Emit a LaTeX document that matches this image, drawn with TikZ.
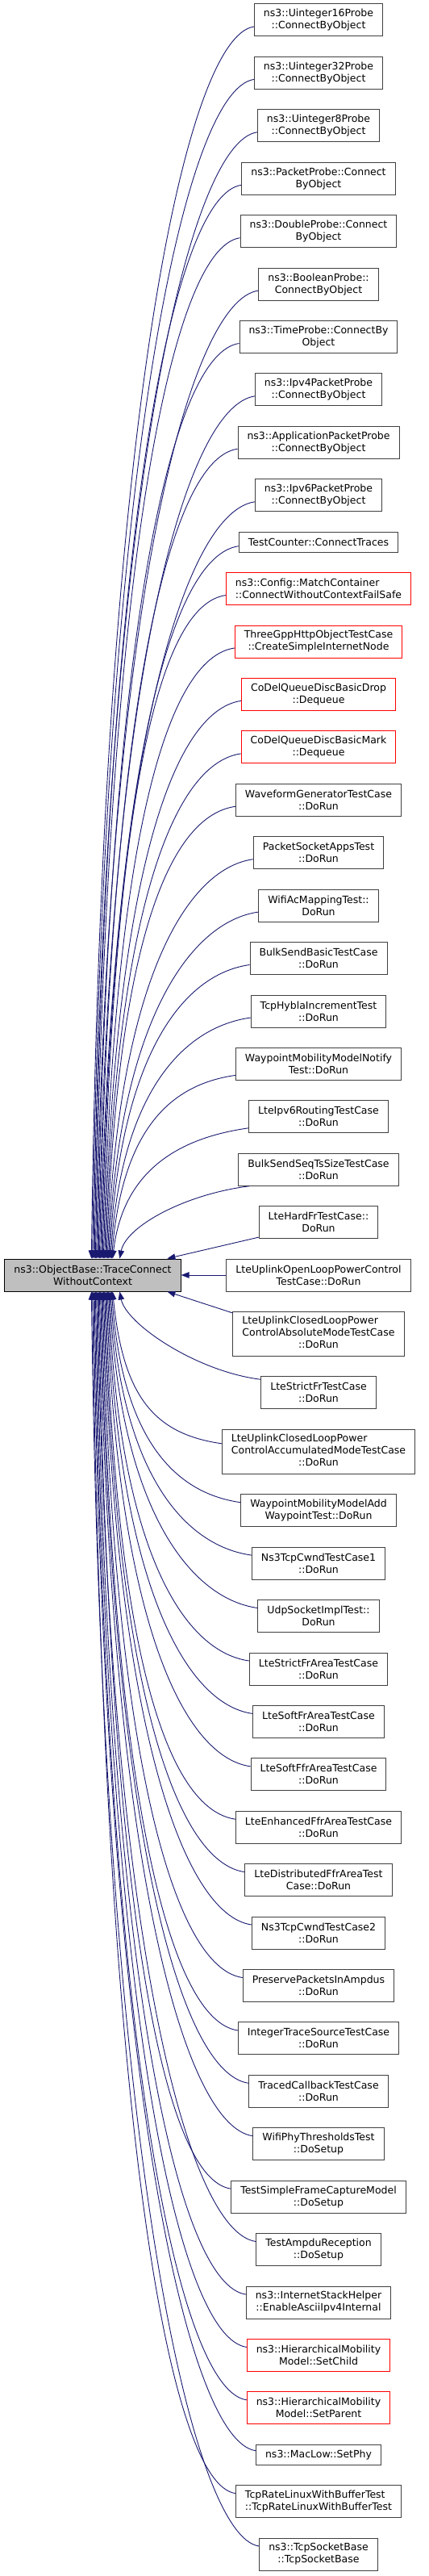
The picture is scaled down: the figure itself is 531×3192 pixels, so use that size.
\documentclass[tikz,border=0pt]{standalone}
\usepackage{fontspec}
\setmainfont{DejaVu Sans}
\usetikzlibrary{arrows.meta}
\definecolor{edgeblue}{HTML}{191970}
\definecolor{boxgray}{HTML}{404040}
\definecolor{leftfill}{HTML}{BFBFBF}
\tikzset{
  fnbase/.style={draw=boxgray, line width=1pt, fill=white, font=\fontsize{12.5pt}{15pt}\selectfont, inner xsep=11.5pt, inner ysep=0pt, minimum height=40pt},
  fn/.style={fnbase, align=center},
  fnleft/.style={fnbase, align=left},
  redbox/.style={draw=red},
  oneline/.style={minimum height=25pt},
  threeline/.style={minimum height=55pt},
  mainfn/.style={fn, draw=black, fill=leftfill},
  edge/.style={draw=edgeblue, line width=0.9pt, -{Triangle[length=10pt,width=7.5pt]}}
}
\begin{document}
\begin{tikzpicture}[x=1pt,y=1pt]
\useasboundingbox (0,0) rectangle (531,-3192);
\node[mainfn] (L) at (115,-1580) {ns3::ObjectBase::TraceConnect\\WithoutContext};
\node[fn] (n0) at (395,-25) {ns3::Uinteger16Probe\\::ConnectByObject};
\node[fn] (n1) at (395,-90.4) {ns3::Uinteger32Probe\\::ConnectByObject};
\node[fn] (n2) at (395,-155.8) {ns3::Uinteger8Probe\\::ConnectByObject};
\node[fn] (n3) at (395,-221.3) {ns3::PacketProbe::Connect\\ByObject};
\node[fn] (n4) at (395,-286.7) {ns3::DoubleProbe::Connect\\ByObject};
\node[fn] (n5) at (395,-352.1) {ns3::BooleanProbe::\\ConnectByObject};
\node[fn] (n6) at (395,-417.5) {ns3::TimeProbe::ConnectBy\\Object};
\node[fn] (n7) at (395,-482.9) {ns3::Ipv4PacketProbe\\::ConnectByObject};
\node[fn] (n8) at (395,-548.3) {ns3::ApplicationPacketProbe\\::ConnectByObject};
\node[fn] (n9) at (395,-613.8) {ns3::Ipv6PacketProbe\\::ConnectByObject};
\node[fn,oneline] (n10) at (395,-671.7) {TestCounter::ConnectTraces};
\node[fnleft,redbox] (n11) at (395,-729.6) {ns3::Config::MatchContainer\\::ConnectWithoutContextFailSafe};
\node[fn,redbox] (n12) at (395,-795.0) {ThreeGppHttpObjectTestCase\\::CreateSimpleInternetNode};
\node[fn,redbox] (n13) at (395,-860.4) {CoDelQueueDiscBasicDrop\\::Dequeue};
\node[fn,redbox] (n14) at (395,-925.9) {CoDelQueueDiscBasicMark\\::Dequeue};
\node[fn] (n15) at (395,-991.3) {WaveformGeneratorTestCase\\::DoRun};
\node[fn] (n16) at (395,-1056.7) {PacketSocketAppsTest\\::DoRun};
\node[fn] (n17) at (395,-1122.1) {WifiAcMappingTest::\\DoRun};
\node[fn] (n18) at (395,-1187.5) {BulkSendBasicTestCase\\::DoRun};
\node[fn] (n19) at (395,-1253.0) {TcpHyblaIncrementTest\\::DoRun};
\node[fn] (n20) at (395,-1318.4) {WaypointMobilityModelNotify\\Test::DoRun};
\node[fn] (n21) at (395,-1383.8) {LteIpv6RoutingTestCase\\::DoRun};
\node[fn] (n22) at (395,-1449.2) {BulkSendSeqTsSizeTestCase\\::DoRun};
\node[fn] (n23) at (395,-1514.6) {LteHardFrTestCase::\\DoRun};
\node[fn] (n24) at (395,-1580.0) {LteUplinkOpenLoopPowerControl\\TestCase::DoRun};
\node[fnbase,threeline] (n25) at (395,-1652.9) {\begin{tabular}{@{}l@{}}LteUplinkClosedLoopPower\\ControlAbsoluteModeTestCase\\\multicolumn{1}{@{}c@{}}{::DoRun}\end{tabular}};
\node[fn] (n26) at (395,-1725.8) {LteStrictFrTestCase\\::DoRun};
\node[fnbase,threeline] (n27) at (395,-1798.8) {\begin{tabular}{@{}l@{}}LteUplinkClosedLoopPower\\ControlAccumulatedModeTestCase\\\multicolumn{1}{@{}c@{}}{::DoRun}\end{tabular}};
\node[fn] (n28) at (395,-1871.7) {WaypointMobilityModelAdd\\WaypointTest::DoRun};
\node[fn] (n29) at (395,-1937.1) {Ns3TcpCwndTestCase1\\::DoRun};
\node[fn] (n30) at (395,-2002.5) {UdpSocketImplTest::\\DoRun};
\node[fn] (n31) at (395,-2068.0) {LteStrictFrAreaTestCase\\::DoRun};
\node[fn] (n32) at (395,-2133.4) {LteSoftFrAreaTestCase\\::DoRun};
\node[fn] (n33) at (395,-2198.8) {LteSoftFfrAreaTestCase\\::DoRun};
\node[fn] (n34) at (395,-2264.2) {LteEnhancedFfrAreaTestCase\\::DoRun};
\node[fn] (n35) at (395,-2329.6) {LteDistributedFfrAreaTest\\Case::DoRun};
\node[fn] (n36) at (395,-2395.0) {Ns3TcpCwndTestCase2\\::DoRun};
\node[fn] (n37) at (395,-2460.5) {PreservePacketsInAmpdus\\::DoRun};
\node[fn] (n38) at (395,-2525.9) {IntegerTraceSourceTestCase\\::DoRun};
\node[fn] (n39) at (395,-2591.3) {TracedCallbackTestCase\\::DoRun};
\node[fn] (n40) at (395,-2656.7) {WifiPhyThresholdsTest\\::DoSetup};
\node[fn] (n41) at (395,-2722.1) {TestSimpleFrameCaptureModel\\::DoSetup};
\node[fn] (n42) at (395,-2787.5) {TestAmpduReception\\::DoSetup};
\node[fn] (n43) at (395,-2853.0) {ns3::InternetStackHelper\\::EnableAsciiIpv4Internal};
\node[fn,redbox] (n44) at (395,-2918.4) {ns3::HierarchicalMobility\\Model::SetChild};
\node[fn,redbox] (n45) at (395,-2983.8) {ns3::HierarchicalMobility\\Model::SetParent};
\node[fn,oneline] (n46) at (395,-3041.7) {ns3::MacLow::SetPhy};
\node[fnleft] (n47) at (395,-3099.6) {TcpRateLinuxWithBufferTest\\::TcpRateLinuxWithBufferTest};
\node[fn] (n48) at (395,-3165.0) {ns3::TcpSocketBase\\::TcpSocketBase};
% upper edges
\foreach \i/\yc/\ex/\ys in {0/25/108/8,1/90.4/109.25/8,2/155.8/110.5/8,3/221.3/111.75/8,4/286.7/113/8,5/352.1/114.25/8,6/417.5/115.5/8,7/482.9/116.75/8,8/548.3/118/8,9/613.8/119.25/8,10/671.7/120.5/5,11/729.6/121.75/8,12/795.0/123/8,13/860.4/124.25/8,14/925.9/125.5/8,15/991.3/126.75/8,16/1056.7/128/8,17/1122.1/129.25/8,18/1187.5/130.5/8,19/1253.0/131.75/8,20/1318.4/133/14,21/1383.8/134.25/14}{
  \pgfmathsetmacro\dd{0.68*(1560-\yc-\ys)}
  \draw[edge] ([yshift=-\ys pt]n\i.west) .. controls +(-85,-12) and +(13,\dd) .. ([xshift=\ex pt]L.north west);
}
\draw[edge] ([xshift=14pt]n22.south west) .. controls +(-80,-10) and +(8,40) .. ([xshift=143pt]L.north west);
\draw[edge] ([yshift=2pt]n23.south west) -- ([xshift=202pt]L.north west);
\draw[edge] (n24.west) -- (L.east);
\draw[edge] ([yshift=-2pt]n25.north west) -- ([xshift=202pt]L.south west);
\draw[edge] ([yshift=-4pt]n26.north west) .. controls +(-80,10) and +(8,-40) .. ([xshift=143pt]L.south west);
% lower edges
\foreach \i/\yc/\ex/\ys in {27/1798.8/134.25/10,28/1871.7/133/10,29/1937.1/131.75/10,30/2002.5/130.5/10,31/2068.0/129.25/10,32/2133.4/128/10,33/2198.8/126.75/10,34/2264.2/125.5/10,35/2329.6/124.25/10,36/2395.0/123/10,37/2460.5/121.75/10,38/2525.9/120.5/10,39/2591.3/119.25/10,40/2656.7/118/10,41/2722.1/116.75/10,42/2787.5/115.5/10,43/2853.0/114.25/10,44/2918.4/113/10,45/2983.8/111.75/10,46/3041.7/110.5/5,47/3099.6/109.25/10,48/3165.0/108/10}{
  \pgfmathsetmacro\dd{0.68*(\yc-\ys-1600)}
  \draw[edge] ([yshift=\ys pt]n\i.west) .. controls +(-85,12) and +(13,-\dd) .. ([xshift=\ex pt]L.south west);
}
\end{tikzpicture}
\end{document}
